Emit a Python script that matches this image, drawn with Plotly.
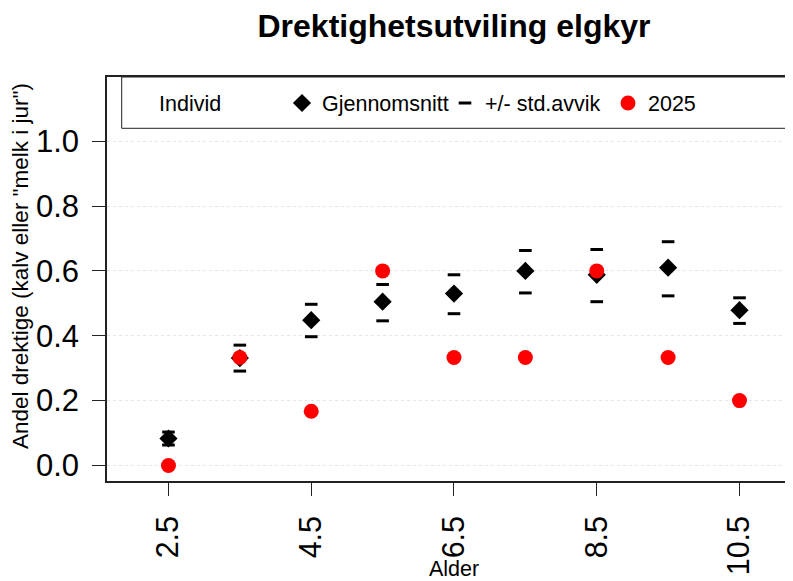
import plotly.graph_objects as go

# ---- data ----
ages = [2.5, 3.5, 4.5, 5.5, 6.5, 7.5, 8.5, 9.5, 10.5]
mean_vals = [0.083, 0.331, 0.448, 0.505, 0.530, 0.600, 0.588, 0.610, 0.479]
sd_upper = [0.103, 0.371, 0.497, 0.558, 0.588, 0.663, 0.666, 0.690, 0.517]
sd_lower = [0.063, 0.291, 0.397, 0.446, 0.468, 0.532, 0.505, 0.523, 0.438]
vals_2025 = [0.0, 0.333, 0.167, 0.600, 0.333, 0.333, 0.600, 0.333, 0.200]
x_ticks = [2.5, 4.5, 6.5, 8.5, 10.5]
y_ticks = [0.0, 0.2, 0.4, 0.6, 0.8, 1.0]

FONT = "Liberation Sans, Arial, sans-serif"
OFF = 8  # page body margin offset
W, H = 793 - OFF, 581 - OFF
ML, MT, MB, MR = 99, 69, 100, 0
PW, PH = W - ML - MR, H - MT - MB


def px_x(sx):
    return (sx - OFF - ML) / PW


def px_y(sy):
    return 1 - (sy - OFF - MT) / PH


fig = go.Figure()

fig.add_trace(go.Scatter(
    x=[None], y=[None], mode="markers", name="Individ",
    marker=dict(color="rgba(0,0,0,0)", size=1),
))
fig.add_trace(go.Scatter(
    x=ages, y=mean_vals, mode="markers", name="Gjennomsnitt",
    marker=dict(symbol="diamond", size=14, color="black"),
))
fig.add_trace(go.Scatter(
    x=ages + ages, y=sd_upper + sd_lower, mode="markers", name="+/- std.avvik",
    marker=dict(symbol="line-ew", size=9, color="black",
                line=dict(color="black", width=3)),
))
fig.add_trace(go.Scatter(
    x=ages, y=vals_2025, mode="markers", name="2025",
    marker=dict(symbol="circle", size=15, color="#ff0000"),
))

# legend box
fig.add_shape(type="rect", xref="paper", yref="paper",
              x0=px_x(121.7), x1=px_x(786),
              y0=px_y(128.3), y1=1.0,
              line=dict(color="#222", width=1), fillcolor="white", layer="above")

fig.add_annotation(text="Alder", xref="paper", yref="paper",
                   x=px_x(454), y=px_y(569),
                   xanchor="center", yanchor="middle", showarrow=False,
                   font=dict(family=FONT, size=21.5, color="black"))
fig.add_annotation(text='Andel drektige (kalv eller "melk i jur")', xref="paper", yref="paper",
                   x=px_x(20), y=px_y(266), textangle=-90,
                   xanchor="center", yanchor="middle", showarrow=False,
                   font=dict(family=FONT, size=22.5, color="black"))

x0 = 2.5 - (168.2 - 106.7) / 71.41
x1 = 2.5 + (793 - 168.2) / 71.41

fig.update_layout(
    width=W, height=H,
    margin=dict(l=ML, r=MR, t=MT, b=MB, pad=0, autoexpand=False),
    paper_bgcolor="white", plot_bgcolor="white",
    font=dict(family=FONT, color="black"),
    title=dict(text="<b>Drektighetsutviling elgkyr</b>", xref="container", yref="container",
               x=(454 - OFF) / W, xanchor="center", y=1 - (26 - OFF) / H, yanchor="middle",
               font=dict(family=FONT, size=32, color="black")),
    showlegend=True,
    legend=dict(orientation="h", xref="paper", yref="paper",
                x=px_x(119), xanchor="left",
                y=px_y(103), yanchor="middle",
                bgcolor="rgba(0,0,0,0)", borderwidth=0,
                entrywidth=118, entrywidthmode="pixels",
                font=dict(family=FONT, size=21.5, color="black"),
                itemclick=False, itemdoubleclick=False),
    xaxis=dict(range=[x0, x1], tickvals=x_ticks, ticktext=[str(v) for v in x_ticks],
               tickangle=-90, ticks="outside", ticklen=13, tickwidth=1.3, tickcolor="#222",
               ticklabelstandoff=8, automargin=False,
               showline=True, linecolor="#222", linewidth=1.5, mirror=True,
               showgrid=False, zeroline=False,
               tickfont=dict(family=FONT, size=30.5, color="black")),
    yaxis=dict(range=[-0.048, 1.198], tickvals=y_ticks, ticktext=[f"{v:.1f}" for v in y_ticks],
               ticks="outside", ticklen=13, tickwidth=1.3, tickcolor="#222",
               ticklabelstandoff=7, automargin=False,
               showline=True, linecolor="#222", linewidth=1.5,
               showgrid=True, gridcolor="#e6e6e6", gridwidth=1, griddash="dot",
               zeroline=False,
               tickfont=dict(family=FONT, size=31, color="black")),
)

fig.write_html("out.html")
